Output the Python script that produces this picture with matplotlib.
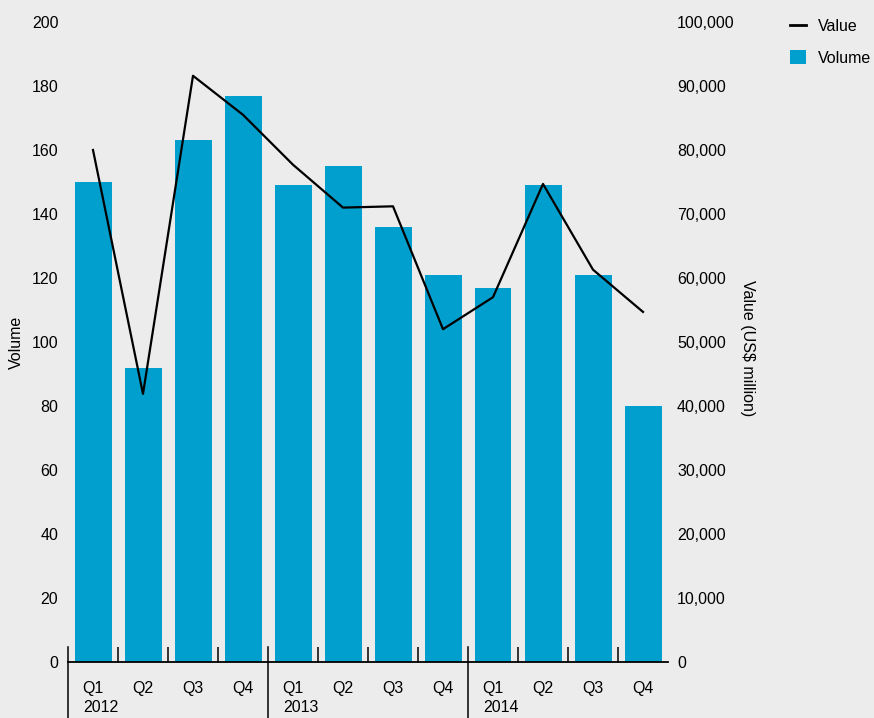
import matplotlib.pyplot as plt
from matplotlib.lines import Line2D
from matplotlib.patches import Patch
from matplotlib.ticker import FuncFormatter
import numpy as np

quarters = ["Q1", "Q2", "Q3", "Q4"] * 3
years = ["2012", "2013", "2014"]
volume = [150, 92, 163, 177, 149, 155, 136, 121, 117, 149, 121, 80]
value = [80000, 41900, 91600, 85500, 77700, 71000, 71200, 52000, 57000, 74700, 61300, 54700]

BG = "#ececec"
BAR = "#009fcd"

plt.rcParams["font.family"] = ["Liberation Sans", "DejaVu Sans"]
plt.rcParams["font.size"] = 11.5

fig = plt.figure(figsize=(8.74, 7.18), dpi=100, facecolor=BG)
ax = fig.add_axes([68 / 874, 56 / 718, 600 / 874, 640 / 718], facecolor=BG)
ax2 = ax.twinx()

x = np.arange(len(volume))
ax.bar(x, volume, width=0.74, color=BAR, zorder=2)
ax2.plot(x, value, color="black", lw=1.6, zorder=3)

ax.set_xlim(-0.5, len(volume) - 0.5)
ax.set_ylim(0, 200)
ax2.set_ylim(0, 100000)
ax.set_yticks(np.arange(0, 201, 20))
ax2.set_yticks(np.arange(0, 100001, 10000))
ax2.yaxis.set_major_formatter(FuncFormatter(lambda v, p: f"{int(v):,}"))

for a in (ax, ax2):
    for s in ("top", "left", "right"):
        a.spines[s].set_visible(False)
ax.spines["bottom"].set_linewidth(1.3)
ax2.spines["bottom"].set_visible(False)

ax.tick_params(axis="y", length=0, pad=7)
ax2.tick_params(axis="y", length=0, pad=6.5)

# quarter labels centred on bars, boundary ticks pointing up
ax.set_xticks(x)
ax.set_xticklabels(quarters)
ax.tick_params(axis="x", which="major", length=0, pad=14)
bounds = [b + 0.5 for b in x[:-1] if (b + 1) % 4 != 0]
ax.set_xticks(bounds, minor=True)
ax.tick_params(axis="x", which="minor", direction="in", length=11, width=1.1)

# year separators and year labels
for i, yr in enumerate(years):
    pos = i * 4 - 0.5
    ax.axvline(pos, ymin=-56 / 640, ymax=15 / 640, color="black", lw=1.1, clip_on=False)
    ax.text(pos + 0.3, -46 / 640, yr, transform=ax.get_xaxis_transform(),
            ha="left", va="center")

ax.set_ylabel("Volume", va="center")
ax.yaxis.set_label_coords((16 - 68) / 600, 0.5)
ax2.set_ylabel("Value (US$ million)", rotation=270, va="center")
ax2.yaxis.set_label_coords(1 + (748 - 668) / 600, 0.49)

handles = [Line2D([0], [0], color="black", lw=2),
           Patch(facecolor=BAR, edgecolor="none")]
fig.legend(handles, ["Value", "Volume"], loc="upper left",
           bbox_to_anchor=(776 / 874, 1 - 4 / 718), frameon=False,
           handlelength=1.0, handleheight=1.0, handletextpad=0.7,
           labelspacing=1.0)

fig.savefig("out.png", dpi=100, facecolor=BG)
